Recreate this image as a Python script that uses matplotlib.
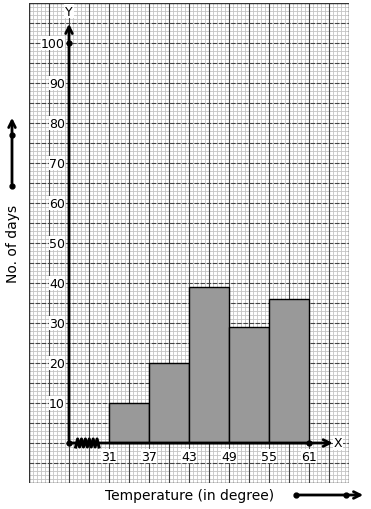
import numpy as np
import matplotlib.pyplot as plt

# histogram data
class_edges = [31, 37, 43, 49, 55, 61]
days = [10, 20, 39, 29, 36]
y_ticks = [10, 20, 30, 40, 50, 60, 70, 80, 90, 100]

origin_x = 25  # where the broken x axis starts

fig = plt.figure(figsize=(3.71, 5.10), dpi=100)
ax = fig.add_axes([29 / 371, 26 / 510, 320 / 371, 480 / 510])
ax.set_xlim(19, 67)
ax.set_ylim(-10, 110)
ax.axis('off')

# graph paper
for x in np.arange(19, 67.01, 0.6):
    ax.axvline(x, color='#c4c4c4', lw=0.6, zorder=0)
for y in np.arange(-10, 110.01, 1):
    ax.axhline(y, color='#c4c4c4', lw=0.6, zorder=0)
for x in np.arange(19, 67.01, 3):
    ax.axvline(x, color='#444444', lw=0.8, zorder=1)
for y in np.arange(-10, 110.01, 5):
    ax.axhline(y, color='#444444', lw=0.8, ls=(0, (4, 1.5)), zorder=1)
for s in [19, 67]:
    ax.axvline(s, color='#333333', lw=1.0, zorder=1)
for s in [-10, 110]:
    ax.axhline(s, color='#333333', lw=1.0, zorder=1)

# bars
widths = np.diff(class_edges)
ax.bar(class_edges[:-1], days, width=widths, align='edge',
       color='#999999', edgecolor='black', lw=1.0, zorder=3)

# axes
ax.annotate('', xy=(origin_x, 105.5), xytext=(origin_x, 0),
            arrowprops=dict(arrowstyle='->', lw=2, color='black',
                            mutation_scale=12), zorder=5)
ax.annotate('', xy=(65, 0), xytext=(origin_x, 0),
            arrowprops=dict(arrowstyle='->', lw=2, color='black',
                            mutation_scale=12), zorder=5)
ax.plot([origin_x, origin_x, class_edges[-1]], [0, 100, 0], 'o',
        color='black', ms=3.5, zorder=6)

# axis break zigzag
zx = np.linspace(origin_x + 1.0, origin_x + 4.5, 13)
zy = np.where(np.arange(13) % 2 == 0, -1.0, 1.0)
ax.plot(zx, zy, color='black', lw=2.2, zorder=6)

ax.text(origin_x, 108, 'Y', ha='center', va='center', fontsize=9,
        bbox=dict(fc='white', ec='none', pad=0.5), zorder=7)
ax.text(65.3, 0, 'X', ha='center', va='center', fontsize=9,
        bbox=dict(fc='white', ec='none', pad=0.5), zorder=7)

# tick labels
for v in y_ticks:
    ax.text(origin_x - 0.6, v, str(v), ha='right', va='center', fontsize=9,
            bbox=dict(fc='white', ec='none', pad=0.3), zorder=7)
for t in class_edges:
    ax.text(t, -3.3, str(t), ha='center', va='center', fontsize=9,
            bbox=dict(fc='white', ec='none', pad=0.3), zorder=7)

# outer labels and direction arrows
fig.text(13 / 371, 1 - 244 / 510, 'No. of days', rotation=90,
         ha='center', va='center', fontsize=10)
fig.text(190 / 371, 1 - 496 / 510, 'Temperature (in degree)',
         ha='center', va='center', fontsize=10)

fig.patches.append(plt.matplotlib.patches.FancyArrowPatch(
    (12 / 371, 1 - 187 / 510), (12 / 371, 1 - 116 / 510),
    transform=fig.transFigure, arrowstyle='->', lw=2, color='black',
    mutation_scale=12))
fig.lines.append(plt.Line2D([12 / 371, 12 / 371], [1 - 187 / 510, 1 - 136 / 510],
                            transform=fig.transFigure, ls='none', marker='o',
                            ms=3.5, color='black'))
fig.patches.append(plt.matplotlib.patches.FancyArrowPatch(
    (296 / 371, 1 - 496 / 510), (366 / 371, 1 - 496 / 510),
    transform=fig.transFigure, arrowstyle='->', lw=2, color='black',
    mutation_scale=12))
fig.lines.append(plt.Line2D([296 / 371, 346 / 371], [1 - 496 / 510, 1 - 496 / 510],
                            transform=fig.transFigure, ls='none', marker='o',
                            ms=3.5, color='black'))

fig.savefig('out.png', dpi=100)
